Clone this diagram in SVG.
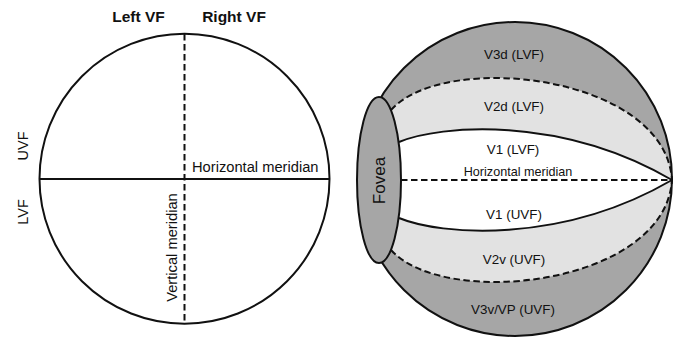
<svg xmlns="http://www.w3.org/2000/svg" width="676" height="337" viewBox="0 0 676 337">
<style>
text{font-family:"Liberation Sans",Arial,sans-serif;fill:#111}
.hd{font-size:15.5px;font-weight:bold}
.lb{font-size:14.5px}
.rl{font-size:13.4px;text-anchor:middle}
.ln{fill:none;stroke:#111;stroke-width:2}
.ds{fill:none;stroke:#111;stroke-width:2;stroke-dasharray:6.5 3.5}
</style>
<rect width="676" height="337" fill="#fff"/>
<g id="left-field">
  <circle cx="184.5" cy="178.7" r="145" fill="#fff" stroke="#111" stroke-width="2"/>
  <line x1="39.5" y1="179" x2="329.5" y2="179" class="ln"/>
  <line x1="184.5" y1="34" x2="184.5" y2="324" class="ds"/>
  <text class="hd" x="138.5" y="22" text-anchor="middle">Left VF</text>
  <text class="hd" x="234" y="22" text-anchor="middle">Right VF</text>
  <text class="lb" transform="translate(28,146) rotate(-90)" text-anchor="middle">UVF</text>
  <text class="lb" transform="translate(28,212) rotate(-90)" text-anchor="middle">LVF</text>
  <text x="192" y="172" style="font-size:14.7px">Horizontal meridian</text>
  <text transform="translate(177,247.5) rotate(-90)" text-anchor="middle" style="font-size:14.7px">Vertical meridian</text>
</g>
<g id="right-map">
  <circle cx="515" cy="179" r="157" fill="#a6a6a6"/>
  <path d="M379,110 L391,110 C445,50 665,75 672,180 C665,285 445,310 391,250 L379,250 Z" fill="#e2e2e2"/>
  <path d="M379,142 L399,142 C440,125 560,115 672,180 C560,245 440,235 399,218 L379,218 Z" fill="#fff"/>
  <path d="M391,110 C445,50 665,75 672,180" class="ds"/>
  <path d="M391,250 C445,310 665,285 672,180" class="ds"/>
  <path d="M399,142 C440,125 560,115 672,180" class="ln"/>
  <path d="M399,218 C440,235 560,245 672,180" class="ln"/>
  <line x1="401" y1="180" x2="672" y2="180" class="ds"/>
  <circle cx="515" cy="179" r="157" fill="none" stroke="#111" stroke-width="2"/>
  <text class="rl" x="514" y="59">V3d (LVF)</text>
  <text class="rl" x="514" y="110.5">V2d (LVF)</text>
  <text class="rl" x="513" y="154">V1 (LVF)</text>
  <text x="518" y="175.5" text-anchor="middle" style="font-size:12.6px">Horizontal meridian</text>
  <text class="rl" x="514" y="219">V1 (UVF)</text>
  <text class="rl" x="514" y="264">V2v (UVF)</text>
  <text class="rl" x="513" y="314">V3v/VP (UVF)</text>
</g>
<g id="fovea">
  <ellipse cx="379" cy="180" rx="22" ry="83" fill="#a6a6a6" stroke="#111" stroke-width="2"/>
  <text transform="translate(385,180.5) rotate(-90)" text-anchor="middle" style="font-size:17px">Fovea</text>
</g>
</svg>
